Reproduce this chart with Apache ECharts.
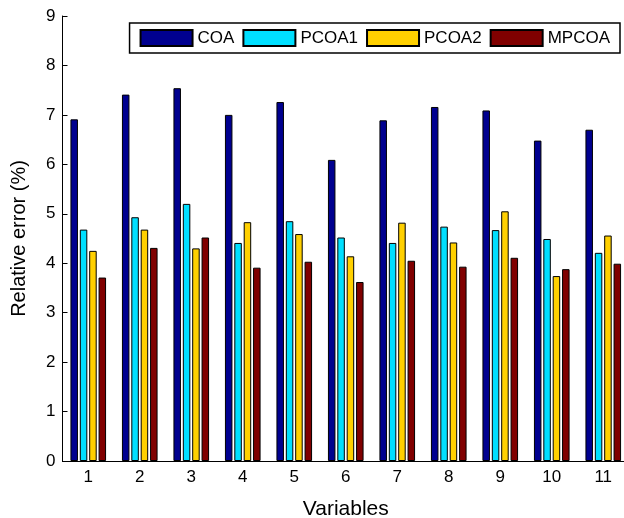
<!DOCTYPE html>
<html>
<head>
<meta charset="utf-8">
<script src="https://cdn.jsdelivr.net/npm/echarts@6/dist/echarts.min.js"></script>
<style>
html,body{margin:0;padding:0;overflow:hidden;background:#fff;}
#chart{width:624px;height:518px;}
</style>
</head>
<body>
<div id="chart"></div>
<script>
const categories = ['1','2','3','4','5','6','7','8','9','10','11'];
const seriesNames = ['COA','PCOA1','PCOA2','MPCOA'];
const coa   = [6.91, 7.41, 7.54, 7.00, 7.26, 6.09, 6.89, 7.16, 7.09, 6.48, 6.70];
const pcoa1 = [4.68, 4.93, 5.20, 4.41, 4.85, 4.52, 4.41, 4.74, 4.67, 4.49, 4.21];
const pcoa2 = [4.25, 4.68, 4.30, 4.83, 4.59, 4.14, 4.82, 4.42, 5.05, 3.74, 4.56];
const mpcoa = [3.71, 4.31, 4.52, 3.91, 4.03, 3.62, 4.05, 3.93, 4.11, 3.88, 3.99];
const yTicks = [0,1,2,3,4,5,6,7,8,9];
const colors = ['#00008F', '#00DFFF', '#FFD000', '#800000'];

const font = 'Liberation Sans, Arial, Helvetica, sans-serif';
const chart = echarts.init(document.getElementById('chart'), null, {renderer: 'canvas'});
const values = [coa, pcoa1, pcoa2, mpcoa];

const option = {
  animation: false,
  backgroundColor: '#fff',
  textStyle: {fontFamily: font, color: '#000'},
  grid: {left: 62.5, top: 16, right: -5, bottom: 57, containLabel: false, outerBoundsMode: 'none'},
  legend: {
    right: 4, top: 23,
    padding: [6, 10, 6, 10],
    itemGap: 8, itemWidth: 52, itemHeight: 16,
    icon: 'rect',
    backgroundColor: '#fff',
    borderColor: '#000', borderWidth: 1.5,
    textStyle: {fontSize: 17, fontFamily: font, color: '#000'},
    data: seriesNames
  },
  xAxis: [{
    type: 'category', data: categories, position: 'bottom',
    name: 'Variables', nameLocation: 'middle', nameGap: 38,
    nameTextStyle: {fontSize: 21, fontFamily: font, color: '#000'},
    axisLine: {lineStyle: {color: '#000', width: 1}},
    axisTick: {inside: true, length: 5, alignWithLabel: true, lineStyle: {color: '#000'}},
    axisLabel: {fontSize: 17, fontFamily: font, color: '#000', margin: 8},
    splitLine: {show: false}
  }, {
    type: 'category', data: categories, position: 'top',
    axisLine: {lineStyle: {color: '#000', width: 1}},
    axisTick: {inside: true, length: 5, alignWithLabel: true, lineStyle: {color: '#000'}},
    axisLabel: {show: false},
    splitLine: {show: false}
  }],
  yAxis: [{
    type: 'value', min: yTicks[0], max: yTicks[yTicks.length-1], interval: 1, position: 'left',
    name: 'Relative error (%)', nameLocation: 'middle', nameGap: 33, nameRotate: 90,
    nameTextStyle: {fontSize: 20, fontFamily: font, color: '#000'},
    axisLine: {show: true, lineStyle: {color: '#000', width: 1}},
    axisTick: {show: true, inside: true, length: 5, lineStyle: {color: '#000'}},
    axisLabel: {fontSize: 17, fontFamily: font, color: '#000', margin: 7},
    splitLine: {show: false}
  }, {
    type: 'value', min: yTicks[0], max: yTicks[yTicks.length-1], interval: 1, position: 'right',
    axisLine: {show: true, lineStyle: {color: '#000', width: 1}},
    axisTick: {show: true, inside: true, length: 5, lineStyle: {color: '#000'}},
    axisLabel: {show: false},
    splitLine: {show: false}
  }],
  series: seriesNames.map((name, i) => ({
    name: name,
    type: 'bar',
    xAxisIndex: 0, yAxisIndex: 0,
    data: values[i],
    barWidth: 7.5,
    barGap: '25%',
    itemStyle: {color: colors[i], borderColor: '#000', borderWidth: 1}
  }))
};
chart.setOption(option);
</script>
</body>
</html>
